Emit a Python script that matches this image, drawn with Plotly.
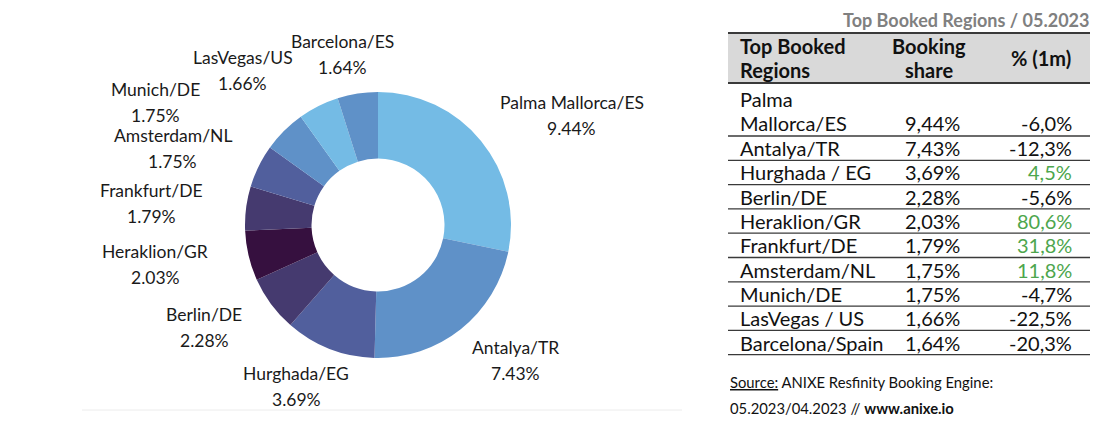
import math
import plotly.graph_objects as go

# ---------------- data ----------------
regions = ["Palma Mallorca/ES", "Antalya/TR", "Hurghada/EG", "Berlin/DE", "Heraklion/GR",
           "Frankfurt/DE", "Amsterdam/NL", "Munich/DE", "LasVegas/US", "Barcelona/ES"]
share = [9.44, 7.43, 3.69, 2.28, 2.03, 1.79, 1.75, 1.75, 1.66, 1.64]

table_regions = [["Palma", "Mallorca/ES"], ["Antalya/TR"], ["Hurghada / EG"], ["Berlin/DE"], ["Heraklion/GR"],
                 ["Frankfurt/DE"], ["Amsterdam/NL"], ["Munich/DE"], ["LasVegas / US"], ["Barcelona/Spain"]]
change_1m = [-6.0, -12.3, 4.5, -5.6, 80.6, 31.8, 11.8, -4.7, -22.5, -20.3]

title_text = "Top Booked Regions / 05.2023"
header = [["Top Booked", "Regions"], ["Booking", "share"], ["% (1m)"]]
source_lines = ["<u>Source:</u> ANIXE Resfinity Booking Engine:",
                "05.2023/04.2023 // <b>www.anixe.io</b>"]

# ---------------- style ----------------
W, H = 1100, 423
OFF = 8  # page body margin of the html page
slice_colors = ["#74bbe5", "#5f91c8", "#515f9d", "#453a6f", "#36103f",
                "#453a6f", "#515f9d", "#5f91c8", "#74bbe5", "#5f91c8"]
FONT = "Lato"
GREEN = "#4da64d"
TXT = "#111111"


def px(x):
    return (x - OFF) / W


def py(y):
    return 1 - (y - OFF) / H


fig = go.Figure()

# donut
cx, cy, r = 378, 225, 133
fig.add_trace(go.Pie(
    labels=regions, values=share, sort=False, direction="clockwise", rotation=0,
    hole=0.5, marker=dict(colors=slice_colors, line=dict(width=0)),
    textinfo="none", showlegend=False, automargin=False,
    hovertemplate="%{label}: %{value:.2f}%<extra></extra>",
    domain=dict(x=[px(cx - r), px(cx + r)], y=[py(cy + r), py(cy - r)]),
))

shapes = []
annotations = []

# ---------------- outside labels (placed from slice mid-angles) ----------------
LABEL_SIZE = 17.5
char_w = 8.45
line_h = 26
gap_x, gap_y = 45, 18
total = sum(share)
boxes = []
cum = 0.0
for name, v in zip(regions, share):
    mid = math.radians((cum + v / 2) / total * 360)
    cum += v
    s, c = math.sin(mid), math.cos(mid)
    val_txt = f"{v:.2f}%"
    w = char_w * max(len(name), len(val_txt))
    h = 2 * line_h - 8
    x = cx + (r + gap_x) * s + s * w / 2
    y = cy - (r + gap_y) * c - c * h / 2
    boxes.append(dict(name=name, val=val_txt, x=x, y=y, w=w, h=h, s=s))

pad = 3
for _ in range(20):
    moved = False
    for i in range(len(boxes)):
        for j in range(i + 1, len(boxes)):
            a, b = boxes[i], boxes[j]
            ox = min(a["x"] + a["w"] / 2, b["x"] + b["w"] / 2) - max(a["x"] - a["w"] / 2, b["x"] - b["w"] / 2)
            oy = min(a["y"] + a["h"] / 2, b["y"] + b["h"] / 2) - max(a["y"] - a["h"] / 2, b["y"] - b["h"] / 2)
            if ox > -pad and oy > 0:
                m = a if abs(a["s"]) > abs(b["s"]) else b
                m["x"] += math.copysign(ox + pad, m["s"])
                moved = True
    if not moved:
        break

for bx in boxes:
    for k, t in enumerate((bx["name"], bx["val"])):
        annotations.append(dict(text=t, x=px(bx["x"]), y=py(bx["y"] + (k - 0.5) * line_h),
                                xref="paper", yref="paper", xanchor="center", yanchor="middle",
                                showarrow=False, font=dict(family=FONT, size=LABEL_SIZE, color="#1a1a1a")))

# faint baseline under the chart
shapes.append(dict(type="line", xref="paper", yref="paper", x0=px(82), x1=px(682),
                   y0=py(410), y1=py(410), line=dict(color="#ececec", width=1)))

# ---------------- table ----------------
tx0, tx1 = 728, 1090
col1_x, col2_r, col3_r = 738, 962, 1074
col2_c, col3_c = 929, 1041
CELL = 20
row_line = 24.5

annotations.append(dict(text=f"<b>{title_text}</b>", x=px(1090), y=py(8.5), xref="paper", yref="paper",
                        xanchor="right", yanchor="top", showarrow=False, borderpad=0,
                        font=dict(family=FONT, size=18, color="#808080")))

top, head_bot = 33, 83
shapes.append(dict(type="rect", xref="paper", yref="paper", x0=px(tx0), x1=px(tx1),
                   y0=py(head_bot), y1=py(top), fillcolor="#d9d9d9", line=dict(width=0), layer="below"))
for yy in (top, head_bot):
    shapes.append(dict(type="line", xref="paper", yref="paper", x0=px(tx0), x1=px(tx1),
                       y0=py(yy), y1=py(yy), line=dict(color="#3a3a3a", width=2)))

head_mid = (top + head_bot) / 2
for col, (lines, xx, anchor) in enumerate(zip(header, (col1_x, col2_c, col3_c), ("left", "center", "center"))):
    n = len(lines)
    for k, t in enumerate(lines):
        yy = head_mid + (k - (n - 1) / 2) * row_line
        annotations.append(dict(text=f"<b>{t}</b>", x=px(xx), y=py(yy), xref="paper", yref="paper",
                                xanchor=anchor, yanchor="middle", showarrow=False,
                                font=dict(family=FONT, size=CELL, color=TXT)))

first_bot = 136
pitch = 24.3
for i, (name_lines, val, ch) in enumerate(zip(table_regions, share, change_1m)):
    if i == 0:
        bot = first_bot
        last_y = 123
    else:
        last_y = first_bot + pitch * (i - 0.5)
        bot = first_bot + pitch * i
    n = len(name_lines)
    for k, t in enumerate(name_lines):
        yy = last_y - (n - 1 - k) * row_line
        annotations.append(dict(text=t, x=px(col1_x), y=py(yy), xref="paper", yref="paper",
                                xanchor="left", yanchor="middle", showarrow=False,
                                font=dict(family=FONT, size=CELL, color=TXT)))
    annotations.append(dict(text=f"{val:.2f}%".replace(".", ","), x=px(col2_r), y=py(last_y),
                            xref="paper", yref="paper", xanchor="right", yanchor="middle",
                            showarrow=False, font=dict(family=FONT, size=CELL, color=TXT)))
    annotations.append(dict(text=f"{ch:.1f}%".replace(".", ","), x=px(col3_r), y=py(last_y),
                            xref="paper", yref="paper", xanchor="right", yanchor="middle",
                            showarrow=False,
                            font=dict(family=FONT, size=CELL, color=GREEN if ch > 0 else TXT)))
    shapes.append(dict(type="line", xref="paper", yref="paper", x0=px(tx0), x1=px(tx1),
                       y0=py(bot), y1=py(bot), line=dict(color="#3a3a3a", width=1.3)))

for k, line in enumerate(source_lines):
    annotations.append(dict(text=line, x=px(tx0), y=py(382 + 26 * k), xref="paper", yref="paper",
                            xanchor="left", yanchor="middle", align="left", showarrow=False,
                            font=dict(family=FONT, size=14.8, color=TXT)))

fig.update_layout(
    width=W, height=H, margin=dict(l=0, r=0, t=0, b=0, pad=0, autoexpand=False),
    paper_bgcolor="white", plot_bgcolor="white",
    shapes=shapes, annotations=annotations,
    font=dict(family=FONT),
)

fig.write_html("out.html")
